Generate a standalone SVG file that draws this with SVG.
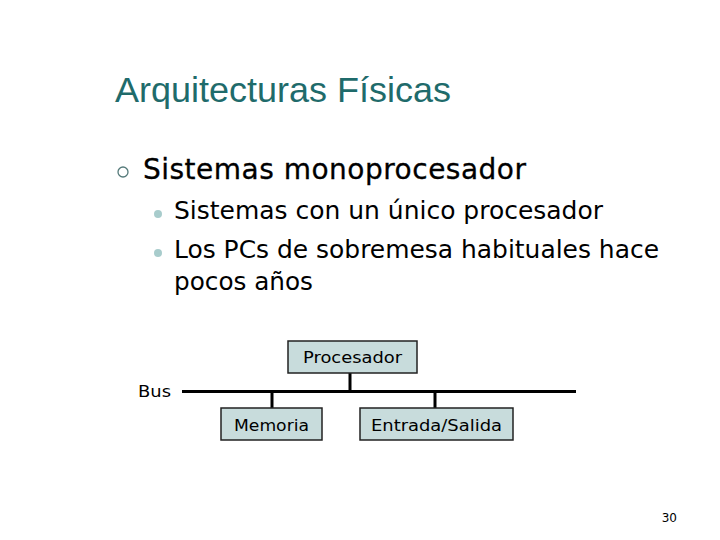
<svg xmlns="http://www.w3.org/2000/svg" width="720" height="540" viewBox="0 0 720 540">
<style>
.title{font-family:"Liberation Sans",Arial,sans-serif;font-size:35px;fill:#1f6b6b}
.h1{font-family:"DejaVu Sans",Verdana,sans-serif;font-size:28px;fill:#000;stroke:#000;stroke-width:0.3}
.h2{font-family:"DejaVu Sans",Verdana,sans-serif;font-size:24px;fill:#000}
.lbl{font-family:"DejaVu Sans",Verdana,sans-serif;font-size:16px;fill:#000}
.box{fill:#c8dcdc;stroke:#222;stroke-width:1.5}
.wire{stroke:#000;stroke-width:3}
</style>
<rect width="720" height="540" fill="#fff"/>
<text class="title" x="115" y="102" textLength="336" lengthAdjust="spacingAndGlyphs">Arquitecturas Físicas</text>
<circle cx="123" cy="172" r="5" fill="none" stroke="#557a7a" stroke-width="1.3"/>
<text class="h1" x="143" y="179" textLength="383" lengthAdjust="spacing">Sistemas monoprocesador</text>
<circle cx="158" cy="214" r="4" fill="#a8cccc"/>
<text class="h2" x="174" y="219" textLength="429" lengthAdjust="spacingAndGlyphs">Sistemas con un único procesador</text>
<circle cx="158" cy="253" r="4" fill="#a8cccc"/>
<text class="h2" x="174" y="258" textLength="485" lengthAdjust="spacingAndGlyphs">Los PCs de sobremesa habituales hace</text>
<text class="h2" x="174" y="290" textLength="139" lengthAdjust="spacingAndGlyphs">pocos años</text>
<g id="connectors">
<line class="wire" x1="182" y1="391.5" x2="527" y2="391.5" stroke-width="4"/>
<line class="wire" x1="527" y1="391.5" x2="576" y2="391.5"/>
<line class="wire" x1="350" y1="373" x2="350" y2="391"/>
<line class="wire" x1="272" y1="392" x2="272" y2="408"/>
<line class="wire" x1="435" y1="392" x2="435" y2="408"/>
</g>
<g id="bus"><text class="lbl" x="138" y="397" textLength="33" lengthAdjust="spacingAndGlyphs">Bus</text></g>
<g id="procesador"><rect class="box" x="288" y="341" width="129" height="32"/><text class="lbl" x="303" y="363" textLength="99" lengthAdjust="spacingAndGlyphs">Procesador</text></g>
<g id="memoria"><rect class="box" x="221" y="408" width="101" height="32"/><text class="lbl" x="234" y="431" textLength="75" lengthAdjust="spacingAndGlyphs">Memoria</text></g>
<g id="es"><rect class="box" x="360" y="408" width="153" height="32"/><text class="lbl" x="371" y="431" textLength="131" lengthAdjust="spacingAndGlyphs">Entrada/Salida</text></g>
<text x="677" y="522" text-anchor="end" font-family="DejaVu Sans,Verdana,sans-serif" font-size="12">30</text>
</svg>
